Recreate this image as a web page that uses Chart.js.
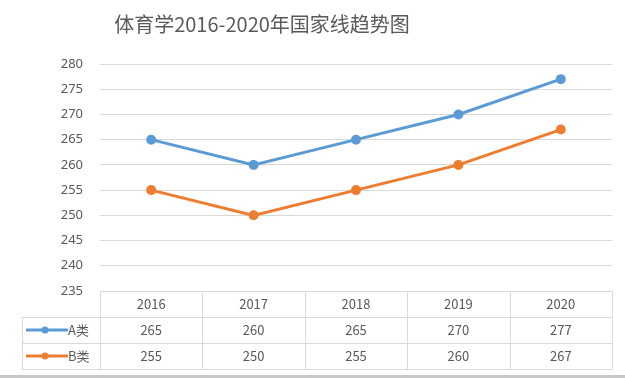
<!DOCTYPE html>
<html>
<head>
  <title>体育学2016-2020年国家线趋势图</title>
  <script src="https://cdn.jsdelivr.net/npm/chart.js"></script>
  <style>
    body {
      margin: 0;
      background-color: #fff;
    }
    .wrap {
      width: 625px;
      height: 378px;
      position: relative;
    }
  </style>
</head>
<body>
  <div class="wrap">
    <canvas id="lineChart"></canvas>
  </div>

  <script>
    const chartTitle = '体育学2016-2020年国家线趋势图';
    const years = ['2016', '2017', '2018', '2019', '2020'];
    const seriesNames = ['A类', 'B类'];
    const seriesA = [265, 260, 265, 270, 277];
    const seriesB = [255, 250, 255, 260, 267];
    const yTicks = [235, 240, 245, 250, 255, 260, 265, 270, 275, 280];

    const colors = ['#5B9BD5', '#ED7D31'];
    const textColor = '#595959';
    const lineColor = '#d9d9d9';

    // titel + datatabel onder de grafiek
    const tablePlugin = {
      id: 'dataTable',
      afterDraw(chart) {
        const ctx = chart.ctx;
        const area = chart.chartArea;
        const xs = chart.scales.x;
        const colW = (area.right - area.left) / years.length;
        const rowH = 26;
        const top = area.bottom;
        const legendLeft = 22;

        ctx.save();

        // titel
        ctx.fillStyle = textColor;
        ctx.font = '20px "Noto Sans CJK SC", "Noto Sans", sans-serif';
        ctx.textAlign = 'center';
        ctx.textBaseline = 'middle';
        ctx.fillText(chartTitle, 262, 24);

        // lijnen
        ctx.strokeStyle = lineColor;
        ctx.lineWidth = 1;
        ctx.beginPath();
        ctx.moveTo(area.left, top + 0.5);
        ctx.lineTo(area.right, top + 0.5);
        for (let r = 1; r <= 3; r++) {
          const y = Math.round(top + r * rowH) + 0.5;
          ctx.moveTo(legendLeft, y);
          ctx.lineTo(area.right, y);
        }
        ctx.moveTo(legendLeft + 0.5, top + rowH);
        ctx.lineTo(legendLeft + 0.5, top + 3 * rowH);
        for (let c = 0; c <= years.length; c++) {
          const x = Math.round(area.left + c * colW) + 0.5;
          ctx.moveTo(x, top);
          ctx.lineTo(x, top + 3 * rowH);
        }
        ctx.stroke();

        // tekst
        ctx.fillStyle = textColor;
        ctx.font = '13px "Noto Sans CJK SC", "Noto Sans", sans-serif';
        ctx.textAlign = 'center';
        years.forEach((yr, i) => {
          ctx.fillText(yr, xs.getPixelForValue(i), top + rowH / 2);
        });
        const rows = [seriesA, seriesB];
        rows.forEach((vals, r) => {
          const cy = top + rowH * (r + 1) + rowH / 2;
          vals.forEach((v, i) => {
            ctx.fillText(String(v), xs.getPixelForValue(i), cy);
          });
          // legenda-sleutel
          ctx.strokeStyle = colors[r];
          ctx.lineWidth = 3;
          ctx.beginPath();
          ctx.moveTo(26, cy);
          ctx.lineTo(68, cy);
          ctx.stroke();
          ctx.fillStyle = colors[r];
          ctx.beginPath();
          ctx.arc(45, cy, 3.5, 0, Math.PI * 2);
          ctx.fill();
          ctx.fillStyle = textColor;
          ctx.textAlign = 'left';
          ctx.fillText(seriesNames[r], 68, cy);
          ctx.textAlign = 'center';
        });

        // onderrand
        ctx.fillStyle = '#c8c8c8';
        ctx.fillRect(0, 375, chart.width, 3);

        ctx.restore();
      }
    };

    const ctx = document.getElementById('lineChart').getContext('2d');

    new Chart(ctx, {
      type: 'line',
      data: {
        labels: years,
        datasets: [{
          label: seriesNames[0],
          data: seriesA,
          borderColor: colors[0],
          backgroundColor: colors[0],
          borderWidth: 3,
          pointRadius: 3.5,
          pointHoverRadius: 3.5,
          fill: false
        }, {
          label: seriesNames[1],
          data: seriesB,
          borderColor: colors[1],
          backgroundColor: colors[1],
          borderWidth: 3,
          pointRadius: 3.5,
          pointHoverRadius: 3.5,
          fill: false
        }]
      },
      options: {
        responsive: true,
        maintainAspectRatio: false,
        animation: false,
        layout: {
          padding: { top: 64, right: 13, bottom: 87, left: 0 }
        },
        plugins: {
          legend: { display: false },
          title: { display: false },
          tooltip: { enabled: false }
        },
        scales: {
          x: {
            display: false,
            offset: true
          },
          y: {
            min: 235,
            max: 280,
            afterFit(scale) { scale.width = 100; },
            afterBuildTicks(scale) {
              scale.ticks = yTicks.map(v => ({ value: v }));
            },
            border: { display: false },
            grid: {
              color: lineColor,
              drawTicks: false
            },
            ticks: {
              padding: 17,
              color: textColor,
              font: { family: '"Noto Sans", sans-serif', size: 13 }
            }
          }
        }
      },
      plugins: [tablePlugin]
    });
  </script>
</body>
</html>
